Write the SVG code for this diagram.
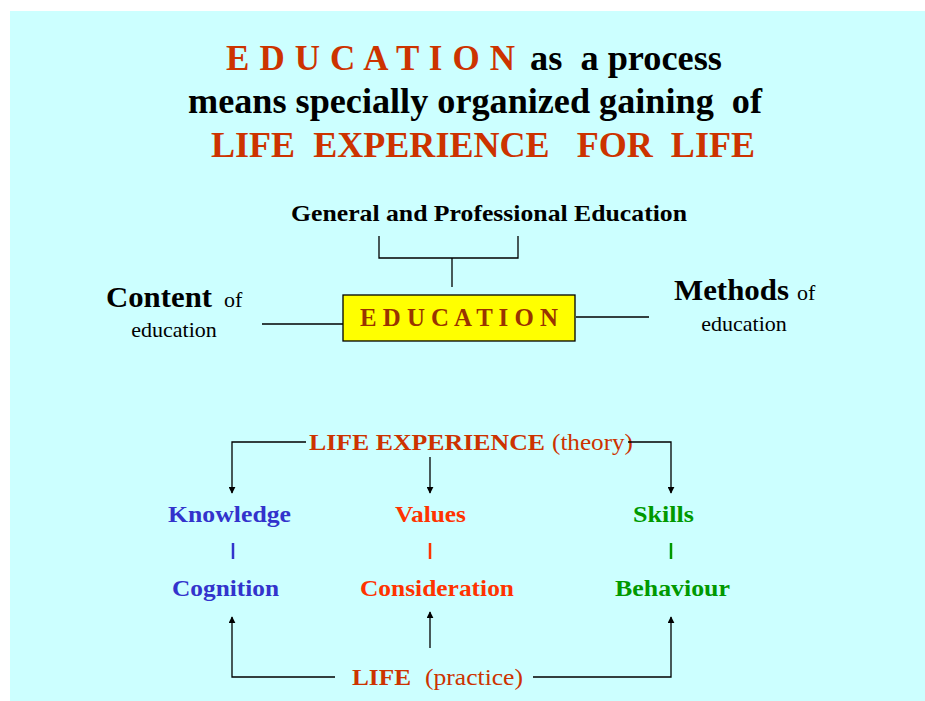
<svg xmlns="http://www.w3.org/2000/svg" width="925" height="701" viewBox="0 0 925 701">
<defs>
<style>
.t{font-family:"Liberation Serif","Times New Roman",serif;}
.b{font-weight:bold;}
.pre{white-space:pre;}
.red{fill:#CC3300;}
.blk{fill:#000;}
.ln{stroke:#000;stroke-width:1.3;fill:none;}
.blue{fill:#3333CC;}
.org{fill:#FF3300;}
.grn{fill:#009900;}
</style>
<marker id="ah" viewBox="0 0 10 10" refX="9" refY="5" markerWidth="7" markerHeight="7" orient="auto" markerUnits="userSpaceOnUse">
<path d="M0,0 L10,5 L0,10 z" fill="#000"/>
</marker>
</defs>
<rect x="0" y="0" width="925" height="701" fill="#fff"/>
<rect x="10" y="11" width="915" height="690" fill="#CCFFFF"/>

<g id="title">
<text class="t b" x="226" y="70" font-size="35"><tspan class="red" textLength="289" lengthAdjust="spacing">E D U C A T I O N</tspan><tspan class="blk pre" x="530" textLength="192" lengthAdjust="spacingAndGlyphs">as  a process</tspan></text>
<text class="t b blk pre" x="188" y="113" font-size="35" textLength="574" lengthAdjust="spacingAndGlyphs">means specially organized gaining  of</text>
<text class="t b red pre" x="211" y="157" font-size="35" textLength="544" lengthAdjust="spacingAndGlyphs">LIFE  EXPERIENCE   FOR  LIFE</text>
</g>

<g id="general">
<text class="t b blk" x="291" y="221" font-size="23" textLength="396" lengthAdjust="spacingAndGlyphs">General and Professional Education</text>
</g>

<g id="content">
<text class="t blk" x="106" y="307"><tspan class="b" font-size="30" textLength="106" lengthAdjust="spacingAndGlyphs">Content</tspan><tspan x="224" font-size="22">of</tspan></text>
<text class="t blk" x="174" y="337" font-size="22" text-anchor="middle">education</text>
</g>

<g id="methods">
<text class="t blk" x="674" y="300"><tspan class="b" font-size="30" textLength="115" lengthAdjust="spacingAndGlyphs">Methods</tspan><tspan x="797" font-size="22">of</tspan></text>
<text class="t blk" x="744" y="331" font-size="22" text-anchor="middle">education</text>
</g>

<g id="education">
<rect x="343" y="295" width="232" height="46" fill="#FFFF00" stroke="#000" stroke-width="1.3"/>
<text class="t b" x="360" y="326" font-size="25" fill="#993300" textLength="198" lengthAdjust="spacingAndGlyphs">E D U C A T I O N</text>
</g>

<g id="lifeexp">
<text class="t red" x="309" y="450" font-size="24"><tspan class="b" textLength="236" lengthAdjust="spacingAndGlyphs">LIFE EXPERIENCE</tspan><tspan x="552" textLength="81" lengthAdjust="spacingAndGlyphs">(theory)</tspan></text>
</g>

<g id="knowledge"><text class="t b blue" x="168" y="522" font-size="23" textLength="123" lengthAdjust="spacingAndGlyphs">Knowledge</text></g>
<g id="values"><text class="t b org" x="395" y="522" font-size="23" textLength="71" lengthAdjust="spacingAndGlyphs">Values</text></g>
<g id="skills"><text class="t b grn" x="633" y="522" font-size="23" textLength="61" lengthAdjust="spacingAndGlyphs">Skills</text></g>
<g id="cognition"><text class="t b blue" x="172" y="596" font-size="23" textLength="107" lengthAdjust="spacingAndGlyphs">Cognition</text></g>
<g id="consideration"><text class="t b org" x="360" y="596" font-size="23" textLength="154" lengthAdjust="spacingAndGlyphs">Consideration</text></g>
<g id="behaviour"><text class="t b grn" x="615" y="596" font-size="23" textLength="115" lengthAdjust="spacingAndGlyphs">Behaviour</text></g>

<g id="life">
<text class="t red" x="352" y="685" font-size="24"><tspan class="b" textLength="59" lengthAdjust="spacingAndGlyphs">LIFE</tspan><tspan x="425" textLength="98" lengthAdjust="spacingAndGlyphs">(practice)</tspan></text>
</g>

<g id="connectors">
<path class="ln" d="M379,236 V258 H518 V236"/>
<path class="ln" d="M452,258 V287"/>
<path class="ln" d="M262,324 H343"/>
<path class="ln" d="M576,317 H649"/>
<path class="ln" d="M306,442 H232 V493" marker-end="url(#ah)"/>
<path class="ln" d="M430,457 V493" marker-end="url(#ah)"/>
<path class="ln" d="M628,442 H671 V493" marker-end="url(#ah)"/>
<line x1="233" y1="543" x2="233" y2="559" stroke="#3333CC" stroke-width="2.5"/>
<line x1="430" y1="543" x2="430" y2="559" stroke="#FF3300" stroke-width="2.5"/>
<line x1="671" y1="543" x2="671" y2="559" stroke="#009900" stroke-width="2.5"/>
<path class="ln" d="M335,677 H232 V617" marker-end="url(#ah)"/>
<path class="ln" d="M430,648 V612" marker-end="url(#ah)"/>
<path class="ln" d="M533,677 H671 V617" marker-end="url(#ah)"/>
</g>
</svg>
